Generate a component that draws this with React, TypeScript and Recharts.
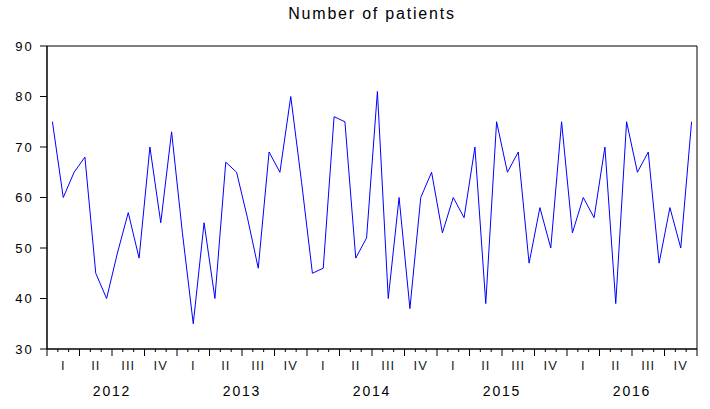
import { Line, LineChart, ReferenceArea, XAxis, YAxis } from 'recharts'

const years = ['2012', '2013', '2014', '2015', '2016']
const quarterLabels = ['I', 'II', 'III', 'IV']

const patients2012 = [75, 60, 65, 68, 45, 40, 49, 57, 48, 70, 55, 73]
const patients2013 = [53, 35, 55, 40, 67, 65, 56, 46, 69, 65, 80, 63]
const patients2014 = [45, 46, 76, 75, 48, 52, 81, 40, 60, 38, 60, 65]
const patients2015 = [53, 60, 56, 70, 39, 75, 65, 69, 47, 58, 50, 75]
const patients2016 = [53, 60, 56, 70, 39, 75, 65, 69, 47, 58, 50, 75]

const yTicks = [30, 40, 50, 60, 70, 80, 90]

const values = [
  ...patients2012,
  ...patients2013,
  ...patients2014,
  ...patients2015,
  ...patients2016,
]

const data = values.map((v, i) => ({
  idx: i,
  month: `${years[Math.floor(i / 12)]}M${String((i % 12) + 1).padStart(2, '0')}`,
  patients: v,
}))

const WIDTH = 710
const HEIGHT = 409
const LEFT = 47
const RIGHT = 13
const TOP = 46
const BOTTOM = 60
const PLOT_W = WIDTH - LEFT - RIGHT
const FONT = "'Liberation Sans', Arial, sans-serif"

function MonthTick(props: any) {
  const { x, y, payload } = props
  const i: number = payload.value
  const half = PLOT_W / values.length / 2
  const left = x - half
  const isQuarterStart = i % 3 === 0
  return (
    <g>
      <line x1={left} x2={left} y1={y} y2={y + (isQuarterStart ? 7 : 3)} stroke="#000" />
      {i === values.length - 1 && (
        <line x1={x + half} x2={x + half} y1={y} y2={y + 7} stroke="#000" />
      )}
      {i % 3 === 1 && (
        <text
          x={x}
          y={y + 21}
          textAnchor="middle"
          fontSize={13}
          fontFamily={FONT}
          letterSpacing={1}
          fill="#1a1a1a"
        >
          {quarterLabels[Math.floor((i % 12) / 3)]}
        </text>
      )}
      {i % 12 === 6 && (
        <text
          x={left}
          y={y + 47}
          textAnchor="middle"
          fontSize={14}
          fontFamily={FONT}
          letterSpacing={1.8}
          fill="#000"
        >
          {years[Math.floor(i / 12)]}
        </text>
      )}
    </g>
  )
}

export default function App() {
  return (
    <div
      style={{
        position: 'absolute',
        left: 0,
        top: 0,
        width: WIDTH,
        height: HEIGHT,
        background: '#fff',
      }}
    >
      <div
        style={{
          position: 'absolute',
          left: LEFT,
          width: PLOT_W,
          top: 5,
          textAlign: 'center',
          fontFamily: FONT,
          fontSize: 16,
          letterSpacing: 1.8,
          color: '#000',
        }}
      >
        Number of patients
      </div>
      <LineChart
        width={WIDTH}
        height={HEIGHT}
        data={data}
        margin={{ top: TOP, right: RIGHT, left: 0, bottom: 0 }}
      >
        <XAxis
          dataKey="idx"
          type="category"
          scale="band"
          interval={0}
          height={BOTTOM}
          tickSize={0}
          tickMargin={0}
          tickLine={false}
          axisLine={{ stroke: '#000' }}
          tick={<MonthTick />}
        />
        <YAxis
          domain={[30, 90]}
          ticks={yTicks}
          width={LEFT}
          tickSize={7}
          tickMargin={6}
          axisLine={{ stroke: '#000' }}
          tickLine={{ stroke: '#000' }}
          tick={{ fill: '#000', fontSize: 13, fontFamily: FONT, letterSpacing: 2.2 }}
        />
        <ReferenceArea
          y1={30}
          y2={90}
          fill="none"
          fillOpacity={0}
          stroke="#000"
          strokeWidth={1}
          ifOverflow="visible"
        />
        <Line
          type="linear"
          dataKey="patients"
          stroke="#0000ff"
          strokeWidth={1}
          dot={false}
          isAnimationActive={false}
        />
      </LineChart>
    </div>
  )
}
